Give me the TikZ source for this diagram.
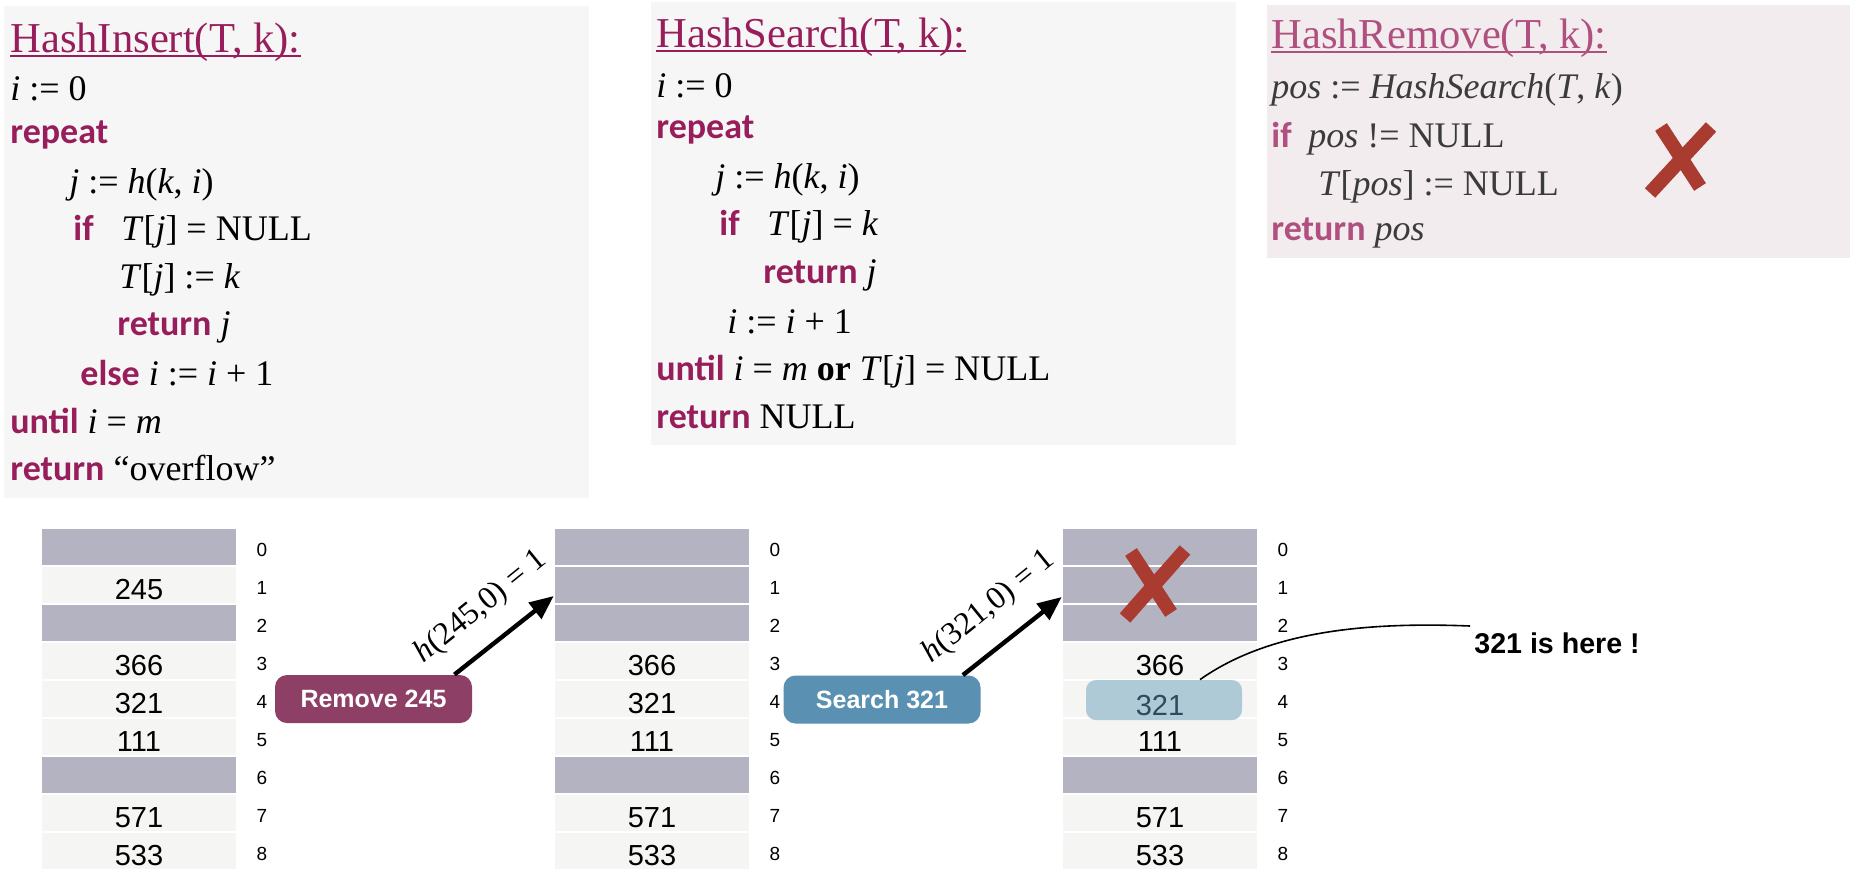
\documentclass[tikz,border=0pt]{standalone}
\usepackage{fontspec}
\setmainfont{Liberation Serif}
\newfontfamily\kwfont{Carlito}
\newfontfamily\hv{Liberation Sans}
\usetikzlibrary{arrows.meta}
\definecolor{kwc}{HTML}{981E5B}
\definecolor{kwcc}{HTML}{B0507F}
\definecolor{txtc}{HTML}{3B3B3B}
\definecolor{boxa}{HTML}{F6F6F6}
\definecolor{boxb}{HTML}{F2ECEF}
\definecolor{lightrow}{HTML}{F5F5F3}
\definecolor{darkrow}{HTML}{B3B3C1}
\definecolor{redx}{HTML}{A93B30}
\definecolor{rmcol}{HTML}{8E3F66}
\definecolor{sccol}{HTML}{5A91B2}
\definecolor{hlcol}{HTML}{AECAD7}
\definecolor{hltxt}{HTML}{2E4A5C}
\newcommand\KW[1]{{\kwfont\bfseries\color{kwc}#1}}
\newcommand\KWb[1]{{\kwfont\bfseries\color{kwcc}#1}}
\tikzset{
  code/.style={anchor=base west, inner sep=0pt, font=\fontsize{18}{21}\selectfont},
  ttl/.style={anchor=base west, inner sep=0pt, font=\fontsize{21.3}{25}\selectfont},
  cell/.style={fill=lightrow, draw=white, line width=0.8pt, minimum width=97.5pt, minimum height=19pt, inner sep=0pt},
  dcell/.style={cell, fill=darkrow},
  num/.style={inner sep=0pt, text height=14.4pt, text depth=0pt, font=\hv\fontsize{14.5}{16}\selectfont},
  idx/.style={inner sep=0pt, font=\hv\fontsize{9.5}{11}\selectfont},
  btn/.style={rounded corners=6pt, minimum width=98.5pt, minimum height=24pt, inner sep=0pt, text=white, font=\hv\bfseries\fontsize{12.5}{14}\selectfont},
  arr/.style={line width=2.2pt, -{Triangle[length=12pt,width=10pt]}},
  xmark/.style={redx, line width=7pt},
  lab/.style={inner sep=0pt, font=\fontsize{16}{18}\selectfont}
}
\begin{document}
\begin{tikzpicture}[x=0.5pt,y=-0.5pt]
\useasboundingbox (0,0) rectangle (1862,878);
\fill[white] (0,0) rectangle (1862,878);
% boxes
\fill[boxa] (4,6) rectangle (589,498);
\fill[boxa] (651,2) rectangle (1236,445);
\fill[boxb] (1267,5) rectangle (1850,258);
% HashInsert
\node[ttl, text=kwc] (ti) at (10,52) {HashInsert(T, k):};
\draw[kwc, line width=0.7pt] ([yshift=-2pt]ti.base west) -- ([yshift=-2pt]ti.base east);
\node[code] (a1) at (10,100) {\textit{i} := 0};
\node[code] (a2) at (10,143) {\KW{repeat}};
\node[code] (a3) at (69,193) {\textit{j} := \textit{h}(\textit{k}, \textit{i})};
\node[code] (a4) at (73,240) {\KW{if}};
\node[code] (a5) at (121,240) {\textit{T}[\textit{j}] = NULL};
\node[code] (a6) at (119,288) {\textit{T}[\textit{j}] := \textit{k}};
\node[code] (a7) at (117,335) {\KW{return} \textit{j}};
\node[code] (a8) at (80,385) {\KW{else} \textit{i} := \textit{i} + 1};
\node[code] (a9) at (10,433) {\KW{until} \textit{i} = \textit{m}};
\node[code] (a10) at (10,480) {\KW{return} “overflow”};
% HashSearch
\node[ttl, text=kwc] (ts) at (656,47) {HashSearch(T, k):};
\draw[kwc, line width=0.7pt] ([yshift=-2pt]ts.base west) -- ([yshift=-2pt]ts.base east);
\node[code] (b1) at (656,97) {\textit{i} := 0};
\node[code] (b2) at (656,138) {\KW{repeat}};
\node[code] (b3) at (715,188) {\textit{j} := \textit{h}(\textit{k}, \textit{i})};
\node[code] (b4) at (719,235) {\KW{if}};
\node[code] (b5) at (767,235) {\textit{T}[\textit{j}] = \textit{k}};
\node[code] (b6) at (763,283) {\KW{return} \textit{j}};
\node[code] (b7) at (727,333) {\textit{i} := \textit{i} + 1};
\node[code] (b8) at (656,380) {\KW{until} \textit{i} = \textit{m} \textbf{or} \textit{T}[\textit{j}] = NULL};
\node[code] (b9) at (656,428) {\KW{return} NULL};
% HashRemove
\node[ttl, text=kwcc] (tr) at (1271,48) {HashRemove(T, k):};
\draw[kwcc, line width=0.7pt] ([yshift=-2pt]tr.base west) -- ([yshift=-2pt]tr.base east);
\node[code, text=txtc] (c1) at (1271,98) {\textit{pos} := \textit{HashSearch}(\textit{T}, \textit{k})};
\node[code] (c2) at (1271,147) {\KWb{if}};
\node[code, text=txtc] (c3) at (1308,147) {\textit{pos} != NULL};
\node[code, text=txtc] (c4) at (1318,195) {\textit{T}[\textit{pos}] := NULL};
\node[code, text=txtc] (c5) at (1271,240) {\KWb{return} \textit{pos}};
\draw[xmark] (1711,127) -- (1650,193);
\draw[xmark] (1661,127) -- (1700,187);
% tables
\foreach \t/\cx in {1/139,2/652,3/1160}{
  \foreach \i in {0,...,8}{
    \node[cell] (t\t c\i) at (\cx,{547+38*\i}) {};
    \node[idx] (t\t i\i) at ({\cx+123},{550+38*\i}) {\i};
  }
  \foreach \i/\v in {3/366,5/111,7/571,8/533}{
    \node[num] (t\t n\i) at (\cx,{547+38*\i}) {\v};
  }
}
\foreach \i in {0,2,6}{ \node[dcell] (t1d\i) at (139,{547+38*\i}) {}; }
\foreach \t/\cx in {2/652,3/1160}{
  \foreach \i in {0,1,2,6}{ \node[dcell] (t\t d\i) at (\cx,{547+38*\i}) {}; }
}
\node[num] (t1n1) at (139,585) {245};
\node[num] (t1n4) at (139,699) {321};
\node[num] (t2n4) at (652,699) {321};
% highlight
\node[fill=hlcol, rounded corners=5pt, minimum width=78pt, minimum height=20pt, inner sep=0pt] (hl) at (1164,700) {};
\node[num, text=hltxt] (t3n4) at (1160,701) {321};
\draw[xmark] (1185,550) -- (1125,618);
\draw[xmark] (1131,552) -- (1171,613);
% buttons
\node[btn, fill=rmcol] (rm) at (373.5,699) {Remove 245};
\node[btn, fill=sccol] (sc) at (882,699.5) {Search 321};
\draw[arr] ([xshift=-9pt]rm.north east) -- ([yshift=-5.5pt]t2c1.west);
\draw[arr] ([xshift=-9pt]sc.north east) -- ([yshift=-6pt]t3c1.west);
\node[lab, rotate=39] (l1) at (481,607) {\textit{h}(245,0) = 1};
\node[lab, rotate=39] (l2) at (989,607) {\textit{h}(321,0) = 1};
% annotation
\node[anchor=west, inner sep=0pt, font=\hv\bfseries\fontsize{14.3}{16}\selectfont] (here) at (1474,643) {321 is here !};
\coordinate (hereend) at (1470,626);
\draw[line width=0.8pt] ([xshift=18pt]hl.north) .. controls (1270,630) and (1370,622) .. (hereend);
\end{tikzpicture}
\end{document}
